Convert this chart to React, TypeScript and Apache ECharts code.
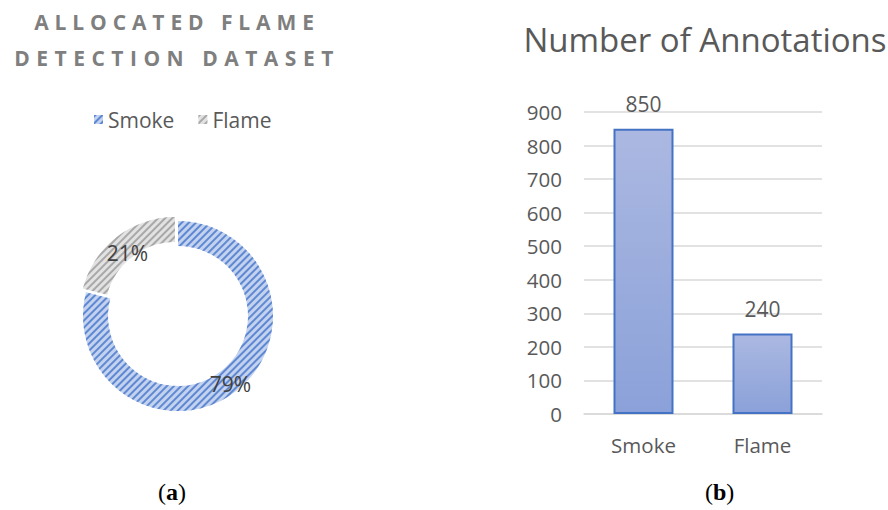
import React, { useEffect, useRef } from "react";
import * as echarts from "echarts";

const pieTitleLines = ["ALLOCATED FLAME", "DETECTION DATASET"];
const pieNames = ["Smoke", "Flame"];
const piePercents = [79, 21];
const barTitle = "Number of Annotations";
const barCategories = ["Smoke", "Flame"];
const barValues = [850, 240];
const yMin = 0;
const yMax = 900;
const yInterval = 100;

const FONT = "'Open Sans', sans-serif";

export default function App() {
  const ref = useRef<HTMLDivElement>(null);
  useEffect(() => {
    if (!ref.current) return;
    const chart = echarts.init(ref.current, undefined, { renderer: "svg" });
    const pieColors = [
      { base: "#c3d2ee", stripe: "#5f88d2" },
      { base: "#e2e2e2", stripe: "#a8a8a8" },
    ];
    const labelPaddings = [
      [0, 0, 0, 0],
      [18, 0, 0, 10],
    ];
    const option: any = {
      animation: false,
      backgroundColor: "#ffffff",
      title: [
        {
          text: pieTitleLines.join("\n"),
          left: 177,
          top: 4,
          padding: 0,
          textAlign: "center",
          textStyle: {
            fontFamily: FONT,
            fontSize: 21,
            fontWeight: "bold",
            color: "#7f7f7f",
            lineHeight: 36,
          },
        },
        {
          text: barTitle,
          left: 700,
          top: 18,
          textAlign: "center",
          textStyle: {
            fontFamily: FONT,
            fontSize: 33,
            fontWeight: "normal",
            color: "#595959",
          },
        },
      ],
      legend: {
        data: pieNames,
        left: 89,
        top: 104,
        icon: "rect",
        itemWidth: 9,
        itemHeight: 9,
        itemGap: 24,
        textStyle: { fontFamily: FONT, fontSize: 21, color: "#595959" },
        selectedMode: false,
      },
      grid: { left: 584, right: 66, top: 112, bottom: 96, containLabel: false },
      xAxis: {
        type: "category",
        data: barCategories,
        axisLine: { lineStyle: { color: "#d9d9d9", width: 1.5 } },
        axisTick: { show: false },
        axisLabel: { fontFamily: FONT, fontSize: 20.5, color: "#595959", margin: 20 },
      },
      yAxis: {
        type: "value",
        min: yMin,
        max: yMax,
        interval: yInterval,
        axisLine: { show: false },
        axisTick: { show: false },
        axisLabel: { fontFamily: FONT, fontSize: 20.5, color: "#595959", margin: 22 },
        splitLine: { lineStyle: { color: "#d9d9d9", width: 1.5 } },
      },
      series: [
        {
          type: "pie",
          center: [178, 316],
          radius: [70, 95],
          startAngle: 90,
          clockwise: true,
          selectedMode: "single",
          selectedOffset: 5,
          avoidLabelOverlap: false,
          label: {
            show: true,
            position: "inside",
            formatter: "{p|{d}%}",
            rich: {
              p: { fontFamily: FONT, fontSize: 21, color: "#404040" },
            },
            fontFamily: FONT,
            fontSize: 21,
            color: "#404040",
          },
          labelLine: { show: false },
          emphasis: { disabled: true },
          data: pieNames.map((n, i) => ({
            name: n,
            value: piePercents[i],
            selected: i === 1,
            label: {
              rich: {
                p: { fontFamily: FONT, fontSize: 21, color: "#404040", padding: labelPaddings[i] },
              },
            },
            itemStyle: {
              color: pieColors[i].base,
              decal: {
                symbol: "rect",
                symbolSize: 1,
                color: pieColors[i].stripe,
                dashArrayX: [1, 0],
                dashArrayY: [1.8, 2.4],
                rotation: -Math.PI / 4,
              },
            },
          })),
        },
        {
          type: "bar",
          name: barTitle,
          data: barValues,
          barWidth: 60,
          itemStyle: {
            color: new echarts.graphic.LinearGradient(0, 0, 0, 1, [
              { offset: 0, color: "#abb8e1" },
              { offset: 1, color: "#8ba1d9" },
            ]),
            borderColor: "#4472c4",
            borderWidth: 2,
          },
          label: {
            show: true,
            position: "top",
            distance: 14,
            fontFamily: FONT,
            fontSize: 21,
            color: "#595959",
          },
          emphasis: { disabled: true },
        },
      ],
      graphic: [
        {
          type: "text",
          left: 158,
          top: 480,
          style: {
            text: "({b|a})",
            font: "24px 'Liberation Serif', serif",
            fill: "#000000",
            rich: {
              b: { fontWeight: "bold", fontSize: 24, fontFamily: "'Liberation Serif', serif" },
            },
          },
        },
        {
          type: "text",
          left: 705,
          top: 480,
          style: {
            text: "({b|b})",
            font: "24px 'Liberation Serif', serif",
            fill: "#000000",
            rich: {
              b: { fontWeight: "bold", fontSize: 24, fontFamily: "'Liberation Serif', serif" },
            },
          },
        },
      ],
    };
    chart.setOption(option);
    const applySpacing = () => {
      const texts = ref.current?.querySelectorAll("text");
      texts?.forEach((t) => {
        const c = (t.textContent || "").trim();
        if (c === pieTitleLines[0]) {
          (t as SVGTextElement).style.letterSpacing = "5.9px";
        } else if (c === pieTitleLines[1]) {
          (t as SVGTextElement).style.letterSpacing = "6.5px";
        }
      });
    };
    applySpacing();
    chart.on("finished", applySpacing);
    return () => {
      chart.dispose();
    };
  }, []);
  return <div ref={ref} style={{ width: 888, height: 510, position: "absolute", left: 0, top: 0 }} />;
}
